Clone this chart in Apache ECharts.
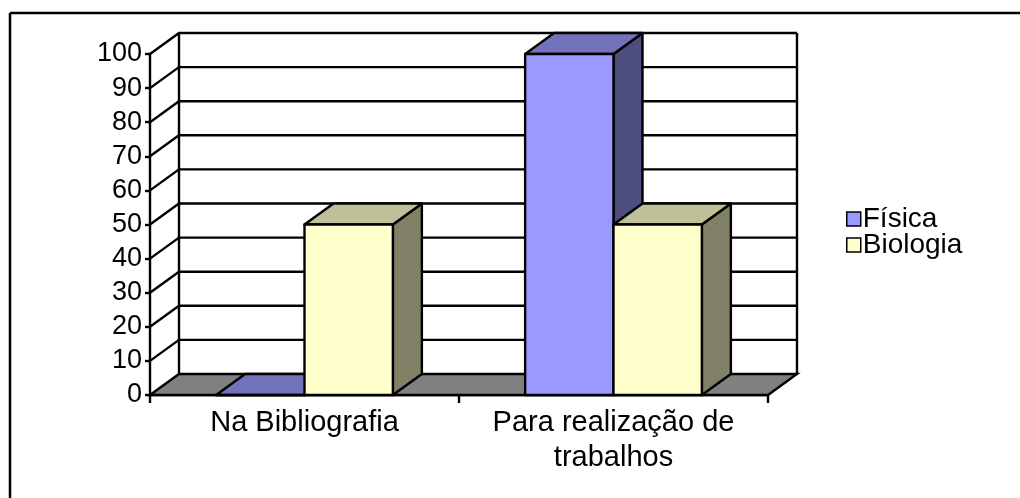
<!DOCTYPE html>
<html>
<head>
<meta charset="utf-8">
<script src="https://cdn.jsdelivr.net/npm/echarts@6/dist/echarts.min.js"></script>
<style>
html,body{margin:0;padding:0;background:#fff;}
#chart{width:1020px;height:498px;}
</style>
</head>
<body>
<div id="chart"></div>
<script>
// ---- data ----
const categories = ['Na Bibliografia', 'Para realização de\ntrabalhos'];
const seriesNames = ['Física', 'Biologia'];
const fisica = [0, 100];
const biologia = [50, 50];
const yTicks = [0, 10, 20, 30, 40, 50, 60, 70, 80, 90, 100];

// ---- style ----
const DX = 29, DY = -21;
const LW = 2.4;
const FONT = '"Liberation Sans", Arial, sans-serif';
const colors = {
  'Física':   {front: '#9999FF', top: '#7373BD', side: '#4D4D80'},
  'Biologia': {front: '#FFFFCC', top: '#BFBF99', side: '#808066'}
};
const BAR_FRAC = 0.286;

const chart = echarts.init(document.getElementById('chart'), null, {renderer: 'canvas'});

function wallsRender(params, api) {
  const v = api.value(1);
  const bw = api.size([1, 0])[0];
  const p = api.coord([0, v]);
  const L = p[0] - bw / 2;
  const R = api.coord([categories.length - 1, v])[0] + bw / 2;
  const y = p[1];
  const line = {stroke: '#000', lineWidth: LW, fill: null};
  const children = [];
  if (v === yTicks[0]) {
    const yTop = api.coord([0, yTicks[yTicks.length - 1]])[1];
    children.push({
      type: 'polygon',
      shape: {points: [[L, y], [L + DX, y + DY], [R + DX, y + DY], [R, y]]},
      style: {fill: '#808080', stroke: '#000', lineWidth: LW}
    });
    children.push({type: 'line', shape: {x1: L + DX, y1: y + DY, x2: L + DX, y2: yTop + DY}, style: line});
    children.push({type: 'line', shape: {x1: R + DX, y1: y + DY, x2: R + DX, y2: yTop + DY}, style: line});
  } else {
    children.push({
      type: 'polyline',
      shape: {points: [[L, y], [L + DX, y + DY], [R + DX, y + DY]]},
      style: line
    });
  }
  return {type: 'group', children: children};
}

function barRender(name, offset) {
  return function (params, api) {
    const cat = api.value(0);
    const val = api.value(1);
    const c = api.coord([cat, val]);
    const b = api.coord([cat, 0]);
    const bw = api.size([1, 0])[0];
    const w = bw * BAR_FRAC;
    const x0 = c[0] + offset * w;
    const col = colors[name];
    const st = {stroke: '#000', lineWidth: LW, lineJoin: 'round'};
    return {
      type: 'group',
      children: [
        {type: 'polygon',
         shape: {points: [[x0 + w, c[1]], [x0 + w + DX, c[1] + DY], [x0 + w + DX, b[1] + DY], [x0 + w, b[1]]]},
         style: Object.assign({fill: col.side}, st)},
        {type: 'polygon',
         shape: {points: [[x0, c[1]], [x0 + DX, c[1] + DY], [x0 + w + DX, c[1] + DY], [x0 + w, c[1]]]},
         style: Object.assign({fill: col.top}, st)},
        {type: 'rect',
         shape: {x: x0, y: c[1], width: w, height: b[1] - c[1]},
         style: Object.assign({fill: col.front}, st)}
      ]
    };
  };
}

const option = {
  animation: false,
  backgroundColor: '#fff',
  textStyle: {fontFamily: FONT},
  graphic: [
    {type: 'line', shape: {x1: 10, y1: 13, x2: 1020, y2: 13}, style: {stroke: '#000', lineWidth: 2.5}, silent: true},
    {type: 'line', shape: {x1: 10, y1: 13, x2: 10, y2: 498}, style: {stroke: '#000', lineWidth: 2.5}, silent: true}
  ],
  grid: {left: 150, right: 252, top: 54, bottom: 103, containLabel: false},
  legend: {
    orient: 'vertical',
    left: 841,
    top: 200,
    itemWidth: 14,
    itemHeight: 14,
    itemGap: -2,
    data: seriesNames.map(n => ({name: n, icon: 'rect', itemStyle: {color: colors[n].front, borderColor: '#000', borderWidth: 1.5}})),
    textStyle: {fontFamily: FONT, fontSize: 28, color: '#000', lineHeight: 24, padding: [0, 0, 0, -3]}
  },
  xAxis: {
    type: 'category',
    data: categories,
    boundaryGap: true,
    axisLine: {show: true, lineStyle: {color: '#000', width: LW}},
    axisTick: {show: true, length: 8, interval: 0, lineStyle: {color: '#000', width: LW}},
    axisLabel: {interval: 0, color: '#000', fontFamily: FONT, fontSize: 29, lineHeight: 35, margin: 10},
    splitLine: {show: false}
  },
  yAxis: {
    type: 'value',
    min: yTicks[0],
    max: yTicks[yTicks.length - 1],
    interval: yTicks[1] - yTicks[0],
    axisLine: {show: true, lineStyle: {color: '#000', width: LW}},
    axisTick: {show: true, length: 5, lineStyle: {color: '#000', width: LW}},
    axisLabel: {color: '#000', fontFamily: FONT, fontSize: 27, margin: 8},
    splitLine: {show: false}
  },
  series: [
    {
      name: 'walls', type: 'custom', renderItem: wallsRender,
      data: yTicks.map(v => [0, v]), encode: {x: 0, y: 1}, silent: true, z: 1
    },
    {
      name: seriesNames[0], type: 'custom', renderItem: barRender(seriesNames[0], -1),
      itemStyle: {color: colors[seriesNames[0]].front},
      data: fisica.map((v, i) => [i, v]), encode: {x: 0, y: 1}, z: 2
    },
    {
      name: seriesNames[1], type: 'custom', renderItem: barRender(seriesNames[1], 0),
      itemStyle: {color: colors[seriesNames[1]].front},
      data: biologia.map((v, i) => [i, v]), encode: {x: 0, y: 1}, z: 2
    }
  ]
};
chart.setOption(option);
</script>
</body>
</html>
